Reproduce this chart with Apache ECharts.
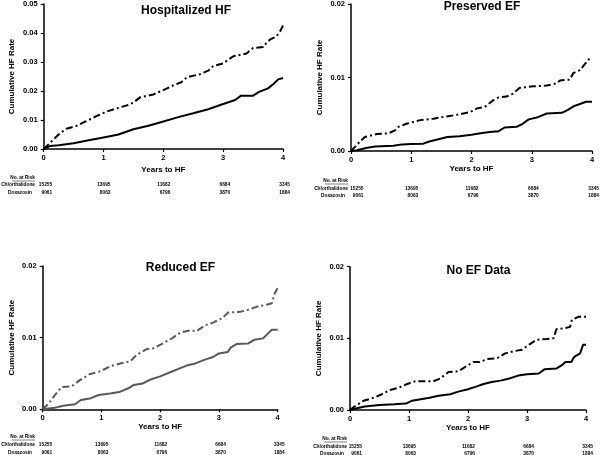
<!DOCTYPE html>
<html>
<head>
<meta charset="utf-8">
<script src="https://cdn.jsdelivr.net/npm/echarts@6/dist/echarts.min.js"></script>
<style>html,body{margin:0;padding:0;background:#fff}#c{width:600px;height:455px}</style>
</head>
<body>
<div id="c"></div>
<script>
// ---- data ----
const panelTitles = ['Hospitalized HF', 'Preserved EF', 'Reduced EF', 'No EF Data'];
const xTickYears = [0, 1, 2, 3, 4];
const riskChl = [15255, 13695, 11682, 6684, 3345];
const riskDox = [9061, 8063, 6796, 3870, 1884];
const groupNames = ['Chlorthalidone', 'Doxazosin'];

// Hospitalized HF
const hospDoxT = [0,0.1,0.25,0.38,0.55,0.7,0.89,1.05,1.22,1.41,1.5,1.61,1.83,2.0,2.17,2.3,2.39,2.61,2.75,2.84,3.0,3.1,3.17,3.39,3.45,3.5,3.67,3.72,3.78,3.89,3.95,4.0];
const hospDoxV = [0,0.002,0.005,0.007,0.008,0.0095,0.0114,0.0129,0.014,0.0152,0.016,0.0178,0.0188,0.0203,0.022,0.023,0.0247,0.0258,0.027,0.0287,0.0295,0.031,0.032,0.0329,0.034,0.0348,0.0352,0.0365,0.0377,0.0388,0.0405,0.0426];
const hospChlT = [0,0.1,0.25,0.5,0.75,1.0,1.25,1.5,1.75,2.0,2.25,2.5,2.75,3.0,3.2,3.3,3.5,3.6,3.75,3.85,3.92,4.0];
const hospChlV = [0,0.001,0.0013,0.002,0.003,0.004,0.005,0.0068,0.008,0.0095,0.011,0.0123,0.0137,0.0155,0.0169,0.0184,0.0184,0.0197,0.0209,0.0226,0.024,0.0245];

// Preserved EF
const presDoxT = [0,0.07,0.15,0.23,0.43,0.62,0.73,0.79,0.92,1.15,1.37,1.59,1.81,1.98,2.09,2.22,2.36,2.45,2.58,2.69,2.8,3.03,3.25,3.41,3.47,3.63,3.69,3.8,3.86,3.94,3.97];
const presDoxV = [0,0.0006,0.0013,0.0019,0.0023,0.0024,0.0028,0.0033,0.0037,0.0042,0.0044,0.0047,0.005,0.0053,0.0058,0.006,0.0069,0.0073,0.0074,0.0078,0.0086,0.0088,0.0089,0.0092,0.0096,0.0097,0.0106,0.011,0.0116,0.0124,0.0127];
const presChlT = [0,0.1,0.25,0.4,0.7,0.85,1.0,1.2,1.3,1.45,1.6,1.8,2.0,2.15,2.3,2.45,2.55,2.75,2.85,2.95,3.1,3.25,3.5,3.6,3.7,3.8,3.9,4.0];
const presChlV = [0,0.0001,0.0004,0.0006,0.0007,0.0009,0.00095,0.001,0.0013,0.0016,0.0019,0.002,0.0022,0.0024,0.0026,0.0027,0.0032,0.0033,0.0037,0.0043,0.0046,0.0051,0.0052,0.0056,0.0061,0.0064,0.0067,0.0067];

// Reduced EF
const redDoxT = [0,0.1,0.21,0.32,0.49,0.64,0.8,0.98,1.15,1.32,1.49,1.6,1.77,1.88,2.05,2.2,2.34,2.51,2.62,2.76,2.9,3.05,3.16,3.36,3.5,3.64,3.81,3.9,3.95,4.0];
const redDoxV = [0,0.0008,0.002,0.0031,0.0032,0.0041,0.0049,0.0053,0.006,0.0064,0.0067,0.0076,0.0084,0.0085,0.0092,0.0099,0.0107,0.011,0.0109,0.0117,0.0121,0.0127,0.0135,0.0136,0.0139,0.0143,0.0146,0.0148,0.0162,0.0169];
const redChlT = [0,0.2,0.35,0.55,0.65,0.8,0.95,1.15,1.3,1.45,1.55,1.7,1.85,2.0,2.15,2.3,2.45,2.6,2.75,2.9,3.0,3.15,3.2,3.3,3.5,3.6,3.75,3.85,3.9,4.0];
const redChlV = [0,0.0002,0.0005,0.0007,0.0013,0.0015,0.002,0.0022,0.0024,0.0029,0.0034,0.0036,0.0042,0.0046,0.0051,0.0056,0.0061,0.0064,0.0069,0.0073,0.0078,0.008,0.0086,0.0091,0.0092,0.0097,0.0099,0.0107,0.0111,0.0111];

// No EF Data
const noefDoxT = [0,0.08,0.23,0.4,0.54,0.68,0.82,0.96,1.1,1.24,1.41,1.53,1.67,1.84,1.95,2.09,2.2,2.32,2.49,2.63,2.77,2.91,3.05,3.16,3.33,3.45,3.5,3.62,3.73,3.76,3.87,4.0];
const noefDoxV = [0,0.0005,0.0013,0.0017,0.0022,0.0028,0.0031,0.0036,0.004,0.004,0.004,0.0044,0.0053,0.0054,0.006,0.0067,0.0067,0.0071,0.0072,0.0079,0.0082,0.0084,0.0092,0.0098,0.0099,0.01,0.0113,0.0114,0.0116,0.0126,0.013,0.013];
const noefChlT = [0,0.1,0.25,0.5,0.75,0.95,1.05,1.2,1.35,1.5,1.7,1.85,2.0,2.15,2.25,2.4,2.55,2.7,2.85,3.0,3.2,3.3,3.5,3.6,3.65,3.75,3.8,3.9,3.95,4.0];
const noefChlV = [0,0.0002,0.0005,0.0007,0.0008,0.0009,0.0013,0.0015,0.0017,0.002,0.0022,0.0026,0.0029,0.0033,0.0036,0.0039,0.0041,0.0044,0.0048,0.005,0.0051,0.0057,0.0058,0.0063,0.0067,0.0067,0.0074,0.0079,0.0091,0.0091];

const yMaxes = [0.05, 0.02, 0.02, 0.02];
const seriesSets = [
  [hospChlT, hospChlV, hospDoxT, hospDoxV],
  [presChlT, presChlV, presDoxT, presDoxV],
  [redChlT, redChlV, redDoxT, redDoxV],
  [noefChlT, noefChlV, noefDoxT, noefDoxV]
];

// ---- layout (pixel positions) ----
const FONT = '"Liberation Sans", Arial, Helvetica, sans-serif';
const layout = [
  {left:43.7, top:3.3, width:239.3, height:145.7, color:'#000', title:[186,11], xNameGap:17, yNameGap:28, risk:{head:178, chl:184.5, dox:193, labelR:35, first:8.5}},
  {left:351, top:3.3, width:241, height:147.7, color:'#000', title:[482,7], xNameGap:13, yNameGap:27, risk:{head:181, chl:188.3, dox:195.7, labelR:348, first:12.5}},
  {left:42.7, top:266, width:235, height:143.3, color:'#595959', title:[180.5,268], xNameGap:13, yNameGap:27, risk:{head:437, chl:445, dox:453, labelR:35, first:9.5}},
  {left:350, top:266.7, width:236, height:143.3, color:'#000', title:[478.5,271], xNameGap:13, yNameGap:27, risk:{head:439, chl:446.5, dox:454, labelR:347, first:12}}
];

const grids = [], xAxes = [], yAxes = [], series = [], graphics = [];
layout.forEach((L, i) => {
  grids.push({left:L.left, top:L.top, width:L.width, height:L.height, containLabel:false});
  const axisCommon = {
    axisLine:{show:true, onZero:false, lineStyle:{color:'#000', width:1.5}},
    axisTick:{show:true, inside:false, length:3, lineStyle:{color:'#000', width:1.2}},
    splitLine:{show:false},
    nameTextStyle:{fontFamily:FONT, fontWeight:'bold', fontSize:8, color:'#000'}
  };
  xAxes.push(Object.assign({}, axisCommon, {
    type:'value', gridIndex:i, min:0, max:4, interval:1,
    name:'Years to HF', nameLocation:'middle', nameGap:L.xNameGap,
    axisLabel:{fontFamily:FONT, fontWeight:'bold', fontSize:7.5, color:'#000', margin:5}
  }));
  yAxes.push(Object.assign({}, axisCommon, {
    type:'value', gridIndex:i, min:0, max:yMaxes[i], interval:0.01,
    name:'Cumulative HF Rate', nameLocation:'middle', nameGap:L.yNameGap,
    nameTextStyle:{fontFamily:FONT, fontWeight:'bold', fontSize:8, color:'#000'},
    axisLabel:{fontFamily:FONT, fontWeight:'bold', fontSize:7.5, color:'#000', margin:6,
      formatter: v => v.toFixed(2)}
  }));
  const [cT, cV, dT, dV] = seriesSets[i];
  series.push({
    type:'line', name:groupNames[0], xAxisIndex:i, yAxisIndex:i, symbol:'none', silent:true,
    data:cT.map((t, k) => [t, cV[k]]),
    lineStyle:{color:L.color, width:2, type:'solid'}
  });
  series.push({
    type:'line', name:groupNames[1], xAxisIndex:i, yAxisIndex:i, symbol:'none', silent:true,
    data:dT.map((t, k) => [t, dV[k]]),
    lineStyle:{color:L.color, width:2, type:[7,3,2,3]}
  });
  // title
  graphics.push({type:'text', x:L.title[0], y:L.title[1], style:{text:panelTitles[i], fill:'#000',
    font:'bold 12px ' + FONT, textAlign:'center', textVerticalAlign:'middle'}});
  // risk table
  const R = L.risk;
  const small = 'bold 4.8px ' + FONT;
  graphics.push({type:'text', x:R.labelR, y:R.head, style:{text:'No. at Risk', fill:'#000',
    font:small, textAlign:'right', textVerticalAlign:'middle'}});
  graphics.push({type:'line', shape:{x1:R.labelR - 23, y1:R.head + 3, x2:R.labelR, y2:R.head + 3},
    style:{stroke:'#000', lineWidth:0.5}});
  graphics.push({type:'text', x:R.labelR, y:R.chl, style:{text:groupNames[0], fill:'#000',
    font:small, textAlign:'right', textVerticalAlign:'middle'}});
  graphics.push({type:'text', x:R.labelR - 3, y:R.dox, style:{text:groupNames[1], fill:'#000',
    font:small, textAlign:'right', textVerticalAlign:'middle'}});
  const pxPerYear = L.width / 4;
  xTickYears.forEach((yr, k) => {
    const xr = L.left + yr * pxPerYear + (k === 0 ? R.first : 7);
    graphics.push({type:'text', x:xr, y:R.chl, style:{text:String(riskChl[k]), fill:'#000',
      font:small, textAlign:'right', textVerticalAlign:'middle'}});
    graphics.push({type:'text', x:xr, y:R.dox, style:{text:String(riskDox[k]), fill:'#000',
      font:small, textAlign:'right', textVerticalAlign:'middle'}});
  });
});

const chart = echarts.init(document.getElementById('c'), null, {renderer:'canvas'});
chart.setOption({
  animation:false,
  backgroundColor:'#fff',
  grid:grids, xAxis:xAxes, yAxis:yAxes, series:series,
  graphic:graphics
});
</script>
</body>
</html>
